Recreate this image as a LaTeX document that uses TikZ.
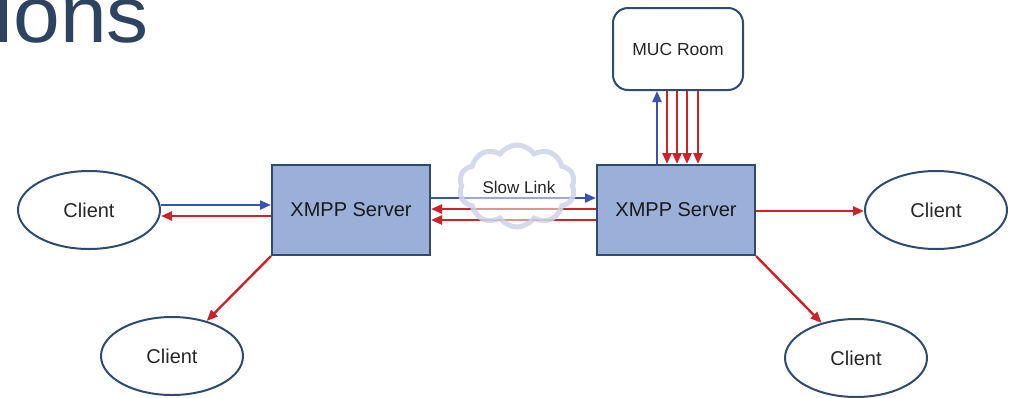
\documentclass[tikz,border=0pt]{standalone}
\usepackage{fontspec}
\setmainfont{Liberation Sans}
\usetikzlibrary{arrows.meta,shapes.symbols,shapes.geometric,calc}
\definecolor{titleblue}{HTML}{2E4360}
\definecolor{edgeblue}{HTML}{2F4B6E}
\definecolor{boxfill}{HTML}{9BB0D9}
\definecolor{linkblue}{HTML}{3A52B0}
\definecolor{linkred}{HTML}{CC2229}
\definecolor{cloudline}{HTML}{CDD3E8}
\begin{document}
\begin{tikzpicture}[x=1pt,y=-1pt,
 client/.style={ellipse, draw=edgeblue, line width=2pt, minimum width=142pt, minimum height=78pt, font=\fontsize{20}{22}\selectfont, text=black!85},
 server/.style={rectangle, draw=edgeblue, fill=boxfill, line width=2pt, minimum width=158pt, minimum height=90pt, font=\fontsize{20}{22}\selectfont, text=black!90},
 room/.style={rectangle, rounded corners=15pt, draw=edgeblue, fill=white, line width=2pt, minimum width=130pt, minimum height=82pt, font=\fontsize{17.5}{20}\selectfont, text=black!85},
 blueline/.style={draw=linkblue, line width=2.2pt, -{Triangle[length=11pt,width=9pt]}},
 redline/.style={draw=linkred, line width=2.4pt, -{Triangle[length=11pt,width=9pt]}},
 cloudstyle/.style={cloud, cloud puffs=10, cloud puff arc=110, aspect=1.5, draw=cloudline, line width=5pt, fill=white, fill opacity=0.5, draw opacity=0.85, minimum width=116pt, minimum height=82pt},
]
\useasboundingbox (0,0) rectangle (1011,397);
\node[anchor=base east, text=titleblue, font=\fontsize{80}{84}\selectfont, inner sep=0pt] (title) at (149,42) {\scalebox{1.05}[1]{ions}};

\node[client] (lc) at (89,210) {Client};
\node[server] (ls) at (351,210) {XMPP Server};
\node[server] (rs) at (676,210) {XMPP Server};
\node[client] (rc) at (936,210) {Client};
\node[client] (blc) at (172,356) {Client};
\node[client] (brc) at (856,358) {Client};
\node[room] (muc) at (678,49) {MUC Room};

\draw[blueline] ([yshift=5pt]lc.east) -- ([yshift=5pt]ls.west);
\draw[redline] ([yshift=-6pt]ls.west) -- ([yshift=-6pt]lc.east);

\draw[blueline] ([yshift=12pt]ls.east) -- ([yshift=12pt]rs.west);
\draw[redline] ([yshift=1pt]rs.west) -- ([yshift=1pt]ls.east);
\draw[redline] ([yshift=-10pt]rs.west) -- ([yshift=-10pt]ls.east);

\draw[redline] ([yshift=-1pt]rs.east) -- ([yshift=-1pt]rc.west);
\draw[redline] (ls.south west) -- (blc);
\draw[redline] (rs.south east) -- (brc);

\draw[blueline] ([xshift=-19pt]rs.north) -- ([xshift=-19pt]rs.north |- muc.south);
\foreach \d in {-9,1,11,22} \draw[redline] ([xshift=\d pt]rs.north |- muc.south) -- ([xshift=\d pt]rs.north);

\node[cloudstyle] (cl) at (517,186) {};
\node[font=\fontsize{17}{20}\selectfont, text=black!85] (sl) at (519,187) {Slow Link};
\end{tikzpicture}
\end{document}
